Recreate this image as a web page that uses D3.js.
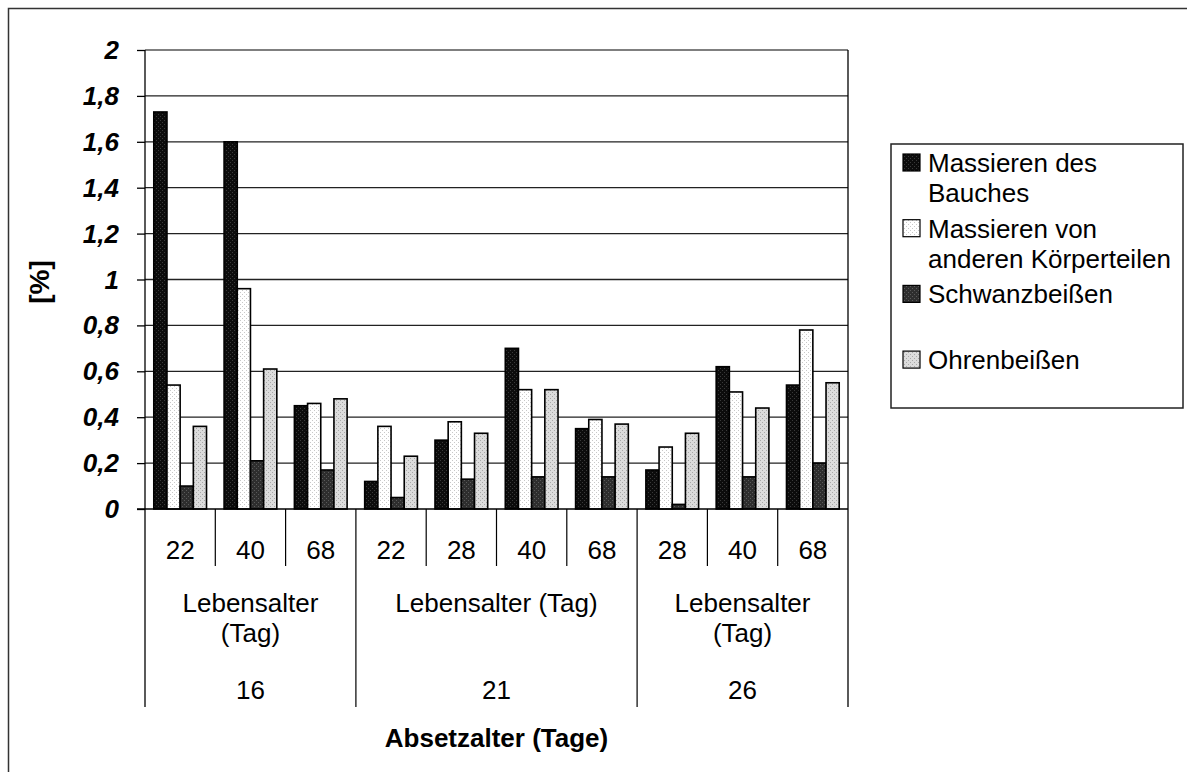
<!DOCTYPE html>
<html>
<head>
<meta charset="utf-8">
<script src="https://cdn.jsdelivr.net/npm/d3@7"></script>
<style>
  html, body { margin: 0; padding: 0; background: #fff; }
  svg { display: block; font-family: "Liberation Sans", Arial, sans-serif; }
</style>
</head>
<body>
<svg id="chart" width="1187" height="772"></svg>
<script>
// Weaning age groups and the day of life observed within each group
const weaningAges = ["16", "21", "26"];
const groupLabel = "Lebensalter (Tag)";
const ageDays = [["22", "40", "68"], ["22", "28", "40", "68"], ["28", "40", "68"]];

// Series (behaviour shares in %), one value per category, left to right
const seriesNames = ["Massieren des Bauches", "Massieren von anderen Körperteilen", "Schwanzbeißen", "Ohrenbeißen"];
const bellyMassage = [1.73, 1.60, 0.45, 0.12, 0.30, 0.70, 0.35, 0.17, 0.62, 0.54];
const otherMassage = [0.54, 0.96, 0.46, 0.36, 0.38, 0.52, 0.39, 0.27, 0.51, 0.78];
const tailBiting   = [0.10, 0.21, 0.17, 0.05, 0.13, 0.14, 0.14, 0.02, 0.14, 0.20];
const earBiting    = [0.36, 0.61, 0.48, 0.23, 0.33, 0.52, 0.37, 0.33, 0.44, 0.55];
const seriesValues = [bellyMassage, otherMassage, tailBiting, earBiting];

const yTicks = [0, 0.2, 0.4, 0.6, 0.8, 1, 1.2, 1.4, 1.6, 1.8, 2];
const yTitle = "[%]";
const xTitle = "Absetzalter (Tage)";

// Legend text split the way it wraps in the legend box
const legendLines = [["Massieren des", "Bauches"], ["Massieren von", "anderen Körperteilen"], ["Schwanzbeißen"], ["Ohrenbeißen"]];

// ---------------------------------------------------------------------------
const FS = 26;            // base font size
const plot = { left: 145, right: 848, top: 50, bottom: 509 };
const axisDepth = { inner: 566, outer: 707 };

const svg = d3.select("#chart");

// Dotted fills for the four series
const fills = [
  { id: "p0", base: "#0c0c0c", dot: "#3a3a3a" },
  { id: "p1", base: "#ffffff", dot: "#c8c8c8" },
  { id: "p2", base: "#2e2e2e", dot: "#5a5a5a" },
  { id: "p3", base: "#dcdcdc", dot: "#a8a8a8" }
];
const defs = svg.append("defs");
fills.forEach(f => {
  const p = defs.append("pattern").attr("id", f.id).attr("patternUnits", "userSpaceOnUse")
    .attr("width", 4).attr("height", 4);
  p.append("rect").attr("width", 4).attr("height", 4).attr("fill", f.base);
  p.append("rect").attr("x", 0).attr("y", 0).attr("width", 1).attr("height", 1).attr("fill", f.dot);
  p.append("rect").attr("x", 2).attr("y", 2).attr("width", 1).attr("height", 1).attr("fill", f.dot);
});

function text(parent, x, y, s, opts = {}) {
  const rot = opts.rotate ? ` rotate(${opts.rotate})` : "";
  return parent.append("text")
    .attr("transform", `translate(${x},${y})${rot}`)
    .attr("text-anchor", opts.anchor || "middle")
    .attr("font-size", opts.size || FS)
    .attr("font-weight", opts.weight || "normal")
    .attr("font-style", opts.style || "normal")
    .attr("fill", "#000")
    .text(s);
}

// Outer frame
svg.append("rect").attr("x", 8.5).attr("y", 8.5).attr("width", 1200).attr("height", 800)
  .attr("fill", "none").attr("stroke", "#333").attr("stroke-width", 1.5);

// Categories
const categories = [];
ageDays.forEach((days, gi) => days.forEach(d => categories.push({ key: weaningAges[gi] + "-" + d, day: d, group: gi })));

const x = d3.scaleBand().domain(categories.map(c => c.key)).range([plot.left, plot.right]);
const bw = x.bandwidth();
const x1 = d3.scaleBand().domain(d3.range(seriesNames.length)).range([bw * 0.125, bw * 0.875]);
const y = d3.scaleLinear().domain([0, 2]).range([plot.bottom, plot.top]);

// Gridlines
svg.append("g").selectAll("line").data(yTicks.filter(t => t > 0)).join("line")
  .attr("x1", plot.left).attr("x2", plot.right)
  .attr("y1", d => y(d)).attr("y2", d => y(d))
  .attr("stroke", d => d === 2 ? "#555" : "#222").attr("stroke-width", 1.3);

// Bars
const bars = svg.append("g");
seriesValues.forEach((vals, si) => {
  bars.append("g").selectAll("rect").data(categories).join("rect")
    .attr("x", (c) => x(c.key) + x1(si))
    .attr("width", x1.bandwidth())
    .attr("y", (c, i) => y(vals[i]))
    .attr("height", (c, i) => y(0) - y(vals[i]))
    .attr("fill", `url(#${fills[si].id})`)
    .attr("stroke", "#000").attr("stroke-width", 1.6);
});

// Y axis with ticks pointing outwards
const yAxis = d3.axisLeft(y).tickValues(yTicks).tickSize(8);
const ya = svg.append("g").attr("transform", `translate(${plot.left},0)`).call(yAxis);
ya.select(".domain").remove();
ya.selectAll(".tick line").attr("stroke", "#000").attr("stroke-width", 1.3);
ya.selectAll(".tick text").remove();
yTicks.forEach(t => text(svg, 119, y(t) + 9, d3.format("~g")(t).replace(".", ","),
  { anchor: "end", weight: "bold", style: "italic" }));

// Axis lines: left axis and right plot border run down through the category table
svg.append("line").attr("x1", plot.left).attr("x2", plot.left).attr("y1", plot.top).attr("y2", axisDepth.outer)
  .attr("stroke", "#000").attr("stroke-width", 1.3);
svg.append("line").attr("x1", plot.right).attr("x2", plot.right).attr("y1", plot.top).attr("y2", axisDepth.outer)
  .attr("stroke", "#000").attr("stroke-width", 1.3);
svg.append("line").attr("x1", plot.left - 8).attr("x2", plot.right).attr("y1", plot.bottom).attr("y2", plot.bottom)
  .attr("stroke", "#000").attr("stroke-width", 1.6);

// Category dividers
const axisG = svg.append("g");
categories.forEach((c, i) => {
  if (i === 0) return;
  const newGroup = categories[i - 1].group !== c.group;
  axisG.append("line").attr("x1", x(c.key)).attr("x2", x(c.key))
    .attr("y1", plot.bottom).attr("y2", newGroup ? axisDepth.outer : axisDepth.inner)
    .attr("stroke", "#000").attr("stroke-width", 1.2);
});

// Day-of-life labels
categories.forEach(c => text(axisG, x(c.key) + bw / 2, 559, c.day));

// Group labels
weaningAges.forEach((wa, gi) => {
  const members = categories.filter(c => c.group === gi);
  const x0 = x(members[0].key), x1g = x(members[members.length - 1].key) + bw;
  const cx = (x0 + x1g) / 2;
  if (members.length > 3) {
    text(axisG, cx, 612, groupLabel);
  } else {
    const parts = groupLabel.split(" ");
    text(axisG, cx, 612, parts[0]);
    text(axisG, cx, 642, parts.slice(1).join(" "));
  }
  text(axisG, cx, 699, wa);
});

// Axis titles
text(svg, (plot.left + plot.right) / 2, 747, xTitle, { weight: "bold" });
text(svg, 49, 282, yTitle, { weight: "bold", rotate: -90, size: 28 });

// Legend
const lg = svg.append("g");
lg.append("rect").attr("x", 891).attr("y", 144).attr("width", 292).attr("height", 264)
  .attr("fill", "#fff").attr("stroke", "#222").attr("stroke-width", 1.5);
seriesNames.forEach((name, i) => {
  const cy = 163 + i * 65.7;
  lg.append("rect").attr("x", 903).attr("y", cy - 9).attr("width", 17).attr("height", 17)
    .attr("fill", `url(#${fills[i].id})`).attr("stroke", "#000").attr("stroke-width", 1.2);
  legendLines[i].forEach((ln, li) => text(lg, 928, cy + 9 + li * 30, ln, { anchor: "start" }));
});
</script>
</body>
</html>
